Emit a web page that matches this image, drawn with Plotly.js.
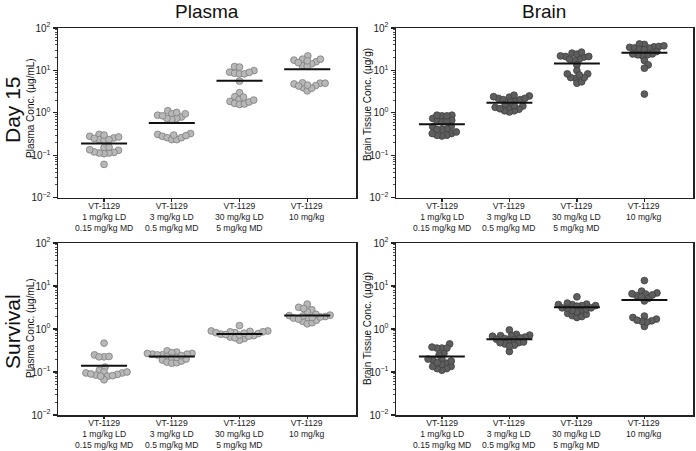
<!DOCTYPE html>
<html><head><meta charset="utf-8">
<script src="https://cdn.plot.ly/plotly-3.0.1.min.js"></script>
<style>body{margin:0;background:#fff}#chart{width:696px;height:451px}</style>
</head><body><div id="chart"></div>
<script>
// ---------- data ----------
const categories = [
  'VT-1129<br>1 mg/kg LD<br>0.15 mg/kg MD',
  'VT-1129<br>3 mg/kg LD<br>0.5 mg/kg MD',
  'VT-1129<br>30 mg/kg LD<br>5 mg/kg MD',
  'VT-1129<br>10 mg/kg'
];
const yTickVals = [0.01, 0.1, 1, 10, 100];
const yTickText = ['10<sup>\u22122</sup>', '10<sup>\u22121</sup>', '10<sup>0</sup>', '10<sup>1</sup>', '10<sup>2</sup>'];

const plasmaDay15 = [
  [0.31, 0.28, 0.256, 0.234, 0.225, 0.234, 0.25, 0.27, 0.30, 0.151, 0.131, 0.117, 0.113, 0.109, 0.113, 0.12, 0.135, 0.155, 0.061],
  [1.12, 0.95, 0.88, 0.80, 0.74, 0.70, 0.74, 0.85, 0.95, 1.02, 0.31, 0.28, 0.26, 0.234, 0.234, 0.26, 0.325, 0.29, 0.30],
  [12.3, 12.0, 9.1, 8.6, 8.3, 9.9, 8.3, 9.0, 5.6, 2.98, 2.4, 2.07, 1.86, 1.67, 1.58, 1.62, 1.8, 2.0, 2.35],
  [22, 18.4, 17.5, 16, 14.3, 13.0, 12.5, 15.3, 16.8, 18.4, 5.0, 4.8, 4.4, 3.9, 3.3, 3.8, 5.1, 4.3, 4.5, 5.0]
];
const plasmaDay15Mean = [0.19, 0.58, 5.7, 10.7];

const brainDay15 = [
  [0.85, 0.74, 0.64, 0.88, 0.61, 0.88, 0.67, 0.645, 0.85, 0.48, 0.47, 0.42, 0.405, 0.325, 0.296, 0.285, 0.296, 0.325, 0.355, 0.405],
  [2.5, 2.35, 2.2, 2.05, 1.95, 2.05, 2.2, 2.4, 2.6, 1.45, 1.35, 1.22, 1.12, 1.05, 1.12, 1.25, 1.38, 1.48, 1.8, 1.6],
  [21.3, 20.6, 25.6, 18.4, 24.2, 17.1, 27, 18.4, 21.3, 22, 13.5, 6.5, 6.8, 8.3, 5.0, 8.3, 5.4, 9.9, 6.8, 7.8],
  [36, 35, 33.6, 36.6, 34, 38, 41, 42, 31.8, 30.6, 27.9, 24.5, 23.3, 22, 23.3, 24.5, 17.1, 13.5, 11.3, 2.77]
];
const brainDay15Mean = [0.54, 1.72, 14.5, 26];

const plasmaSurvival = [
  [0.47, 0.25, 0.225, 0.23, 0.225, 0.13, 0.11, 0.10, 0.095, 0.085, 0.08, 0.066, 0.08, 0.088, 0.095, 0.10, 0.09, 0.082],
  [0.31, 0.29, 0.27, 0.25, 0.26, 0.26, 0.27, 0.28, 0.25, 0.23, 0.21, 0.19, 0.17, 0.16, 0.165, 0.18, 0.2, 0.22, 0.24],
  [1.2, 0.88, 0.82, 0.78, 0.76, 0.86, 0.9, 0.9, 0.86, 0.82, 0.7, 0.65, 0.6, 0.55, 0.62, 0.68, 0.72, 0.74, 0.8],
  [3.2, 2.8, 3.8, 2.5, 3.0, 2.05, 1.95, 1.75, 1.5, 1.32, 1.4, 1.6, 1.8, 2.0, 2.1, 1.9, 2.2, 1.85, 1.7]
];
const plasmaSurvivalMean = [0.14, 0.23, 0.77, 2.05];

const brainSurvival = [
  [0.45, 0.36, 0.36, 0.36, 0.38, 0.27, 0.2, 0.19, 0.2, 0.16, 0.135, 0.12, 0.11, 0.12, 0.135, 0.15, 0.165, 0.18, 0.25],
  [0.95, 0.75, 0.7, 0.72, 0.7, 0.65, 0.68, 0.6, 0.58, 0.55, 0.56, 0.62, 0.48, 0.42, 0.45, 0.3, 0.4, 0.48, 0.5],
  [5.6, 3.8, 3.7, 3.5, 3.4, 3.5, 3.7, 4.0, 2.55, 2.3, 2.05, 1.85, 1.95, 2.2, 2.5, 2.7, 2.9, 3.0, 3.1, 3.1],
  [13.4, 7.6, 6.9, 6.5, 6.0, 5.2, 4.5, 5.6, 6.2, 6.6, 1.85, 1.7, 1.55, 2.0, 1.15, 1.45, 1.5, 1.6]
];
const brainSurvivalMean = [0.23, 0.58, 3.2, 4.7];

// ---------- layout geometry ----------
const W = 696, H = 451;
const colL = [58, 356], colR = [396, 693];
const rowT = [28, 197.7], rowB = [243, 415];
const xRange = [-0.68, 3.72];
const FONT = 'Liberation Sans, Arial, Helvetica, sans-serif';
const INK = '#222';

function xd(c) { return [c[0] / W, c[1] / W]; }
function yd(r) { return [1 - r[1] / H, 1 - r[0] / H]; }

// beeswarm offsets (in category units) computed in pixel space
function swarm(vals, pxPerDecade, pxPerCat, D) {
  const pts = vals.map((v, i) => ({ i, y: Math.log10(v) * pxPerDecade, x: 0 }));
  pts.sort((a, b) => a.y - b.y);
  const placed = [];
  let flip = 1;
  for (const p of pts) {
    const cands = [0];
    for (const q of placed) {
      const dy = p.y - q.y;
      if (Math.abs(dy) < D) {
        const dx = Math.sqrt(D * D - dy * dy);
        cands.push(q.x + dx, q.x - dx);
      }
    }
    cands.sort((a, b) => {
      const d = Math.abs(a) - Math.abs(b);
      if (Math.abs(d) > 1e-6) return d;
      return flip * (b - a);
    });
    for (const c of cands) {
      if (placed.every(q => (c - q.x) ** 2 + (p.y - q.y) ** 2 >= D * D - 1e-6)) { p.x = c; break; }
    }
    if (p.x !== 0) flip = -flip;
    placed.push(p);
  }
  const off = new Array(vals.length);
  pts.forEach(p => { off[p.i] = p.x / pxPerCat; });
  return off;
}

const minorVals = [];
for (let d = -2; d < 2; d++) for (let k = 2; k <= 9; k++) minorVals.push(k * Math.pow(10, d));

const traces = [];
const annotations = [];
function panel(groups, means, idx, col, row, fill, edge) {
  const xa = idx === 1 ? 'x' : 'x' + idx;
  const ya = idx === 1 ? 'y' : 'y' + idx;
  const pxPerCat = (col[1] - col[0]) / (xRange[1] - xRange[0]);
  const pxPerDecade = (row[1] - row[0]) / 4;
  const xs = [], ys = [];
  groups.forEach((g, gi) => {
    const off = swarm(g, pxPerDecade, pxPerCat, 5);
    g.forEach((v, k) => { xs.push(gi + off[k]); ys.push(v); });
  });
  traces.push({
    type: 'scatter', mode: 'markers', x: xs, y: ys, xaxis: xa, yaxis: ya,
    marker: { size: 6.8, color: fill, line: { color: edge, width: 0.8 } },
    hoverinfo: 'skip', showlegend: false, cliponaxis: false
  });
  const lx = [], ly = [];
  means.forEach((m, gi) => { lx.push(gi - 0.34, gi + 0.34, null); ly.push(m, m, null); });
  traces.push({
    type: 'scatter', mode: 'lines', x: lx, y: ly, xaxis: xa, yaxis: ya,
    line: { color: '#111', width: 2 }, hoverinfo: 'skip', showlegend: false
  });
  // category labels under the axis
  categories.forEach((c, gi) => {
    annotations.push({
      text: c, x: gi, xref: xa, y: 1 - (row[1] + 2.2) / H, yref: 'paper',
      xanchor: 'center', yanchor: 'top', showarrow: false, borderpad: 0,
      font: { family: FONT, size: 8.6, color: INK }
    });
  });
}

panel(plasmaDay15, plasmaDay15Mean, 1, colL, rowT, '#b8b8b8', '#7c7c7c');
panel(brainDay15, brainDay15Mean, 2, colR, rowT, '#5e5e5e', '#404040');
panel(plasmaSurvival, plasmaSurvivalMean, 3, colL, rowB, '#b8b8b8', '#7c7c7c');
panel(brainSurvival, brainSurvivalMean, 4, colR, rowB, '#5e5e5e', '#404040');

function xAx(col, anchor) {
  return {
    domain: xd(col), anchor, range: xRange, tickmode: 'array', tickvals: [0, 1, 2, 3],
    showticklabels: false,
    ticks: 'outside', ticklen: 2.5, tickwidth: 1.2, tickcolor: INK,
    showline: true, linecolor: INK, linewidth: 1.5, mirror: true,
    showgrid: false, zeroline: false, automargin: false, fixedrange: true
  };
}
function yAx(row, anchor) {
  return {
    domain: yd(row), anchor, type: 'log', range: [-2, 2],
    tickmode: 'array', tickvals: yTickVals, ticktext: yTickText,
    ticks: 'outside', ticklen: 4, tickwidth: 1.2, tickcolor: INK,
    minor: { tickmode: 'array', tickvals: minorVals, ticks: 'outside', ticklen: 2, tickwidth: 0.8, tickcolor: INK, showgrid: false },
    showline: true, linecolor: INK, linewidth: 1.5, mirror: true,
    showgrid: false, zeroline: false, automargin: false, fixedrange: true,
    tickfont: { family: FONT, size: 10, color: INK }
  };
}

function ann(text, xpx, ypx, size, angle) {
  return {
    text, x: xpx / W, y: 1 - ypx / H, xref: 'paper', yref: 'paper',
    xanchor: 'center', yanchor: 'middle', showarrow: false, textangle: angle || 0,
    font: { family: FONT, size, color: '#111' }
  };
}

annotations.push(
  ann('Plasma', 207, 11, 19),
  ann('Brain', 544, 11, 19),
  ann('Day 15', 12, 110, 21, -90),
  ann('Survival', 12, 332, 21, -90),
  ann('Plasma Conc. (\u00b5g/mL)', 30, 108, 10, -90),
  ann('Brain Tissue Conc. (\u00b5g/g)', 367, 104, 10, -90),
  ann('Plasma Conc. (\u00b5g/mL)', 30, 328, 10, -90),
  ann('Brain Tissue Conc. (\u00b5g/g)', 367, 328, 10, -90)
);

const layout = {
  width: W, height: H, margin: { l: 0, r: 0, t: 0, b: 0 },
  paper_bgcolor: '#fff', plot_bgcolor: '#fff', showlegend: false,
  xaxis: xAx(colL, 'y'), yaxis: yAx(rowT, 'x'),
  xaxis2: xAx(colR, 'y2'), yaxis2: yAx(rowT, 'x2'),
  xaxis3: xAx(colL, 'y3'), yaxis3: yAx(rowB, 'x3'),
  xaxis4: xAx(colR, 'y4'), yaxis4: yAx(rowB, 'x4'),
  annotations
};

Plotly.newPlot('chart', traces, layout, { displayModeBar: false, staticPlot: true });
</script>
</body></html>
